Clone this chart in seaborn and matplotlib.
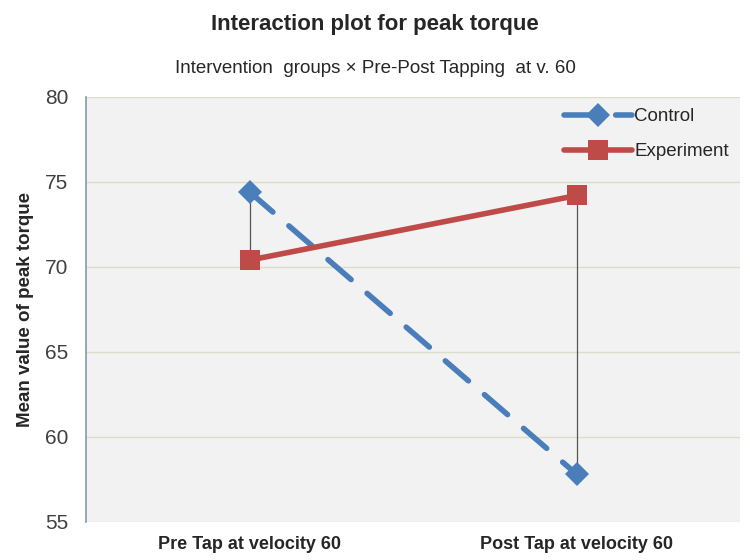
import pandas as pd
import matplotlib.pyplot as plt
import seaborn as sns

# Data
phases = ['Pre Tap at velocity 60', 'Post Tap at velocity 60']
control = [74.4, 57.8]
experiment = [70.4, 74.2]

data = pd.DataFrame({
    'Phase': phases * 2,
    'Torque': control + experiment,
    'Group': ['Control'] * 2 + ['Experiment'] * 2,
})

sns.set_style('white')
plt.rcParams['font.family'] = ['Liberation Sans', 'DejaVu Sans']

fig, ax = plt.subplots(figsize=(7.5, 5.6), dpi=100)
fig.subplots_adjust(left=0.115, right=0.987, top=0.827, bottom=0.068)
ax.set_facecolor('#f2f2f2')

# high-low lines between the groups
ax.vlines(phases, [min(a, b) for a, b in zip(control, experiment)],
          [max(a, b) for a, b in zip(control, experiment)],
          color='#555555', linewidth=0.9, zorder=2)

sns.lineplot(data=data, x='Phase', y='Torque', hue='Group', style='Group',
             palette={'Control': '#4a7ebb', 'Experiment': '#be4b48'},
             dashes={'Control': (5.5, 3.8), 'Experiment': ''},
             markers={'Control': 'D', 'Experiment': 's'},
             markersize=15, linewidth=4, markeredgewidth=0,
             ax=ax, zorder=3)
for line in ax.lines:
    line.set_dash_capstyle('round')
    if line.get_marker() == 'D':
        line.set_markersize(12.5)

ax.set_xlim(-0.5, 1.5)
ax.set_ylim(55, 80)
ax.set_yticks(range(55, 81, 5))
ax.yaxis.grid(True, color='#dcdcc8', linewidth=1)
ax.set_axisbelow(True)

for side in ['top', 'right', 'bottom']:
    ax.spines[side].set_visible(False)
ax.spines['left'].set_color('#8497b0')
ax.spines['left'].set_linewidth(1.2)
ax.tick_params(axis='y', which='major', direction='out', length=7, pad=6,
               color='#8497b0', labelsize=15, labelcolor='#404040')
ax.tick_params(axis='x', length=0, labelsize=13, pad=10)
for lbl in ax.get_xticklabels():
    lbl.set_fontweight('bold')

ax.set_xlabel('')
ax.set_ylabel('Mean value of peak torque', fontsize=13.5, fontweight='bold',
              labelpad=8)

fig.suptitle('Interaction plot for peak torque', fontsize=16,
             fontweight='bold', y=0.975)
fig.text(0.5, 0.877, 'Intervention  groups × Pre-Post Tapping  at v. 60',
         ha='center', va='center', fontsize=13.5)

leg = ax.legend(loc='upper right', frameon=False, fontsize=13.5,
                handlelength=3.6, borderaxespad=0.2, labelspacing=0.95,
                handletextpad=0.15)
leg.set_title(None)

plt.savefig('out.png', dpi=100)
